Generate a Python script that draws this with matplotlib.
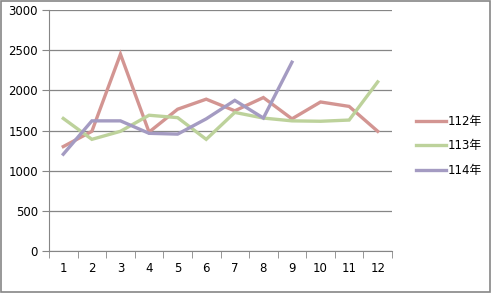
import matplotlib
matplotlib.use('Agg')
import matplotlib.pyplot as plt
from matplotlib.patches import Rectangle

plt.rcParams['font.family'] = ['DejaVu Sans', 'Noto Sans CJK TC']

months = [1, 2, 3, 4, 5, 6, 7, 8, 9, 10, 11, 12]
y112 = [1300, 1490, 2450, 1480, 1765, 1890, 1745, 1910, 1645, 1855, 1800, 1490]
y113 = [1650, 1390, 1490, 1690, 1660, 1390, 1725, 1655, 1620, 1615, 1630, 2105]
y114 = [1205, 1620, 1620, 1465, 1455, 1645, 1875, 1655, 2350]
labels = ['112年', '113年', '114年']
colors = ['#D39592', '#BDD29B', '#A49BC2']

fig = plt.figure(figsize=(4.91, 2.93), dpi=100)
ax = fig.add_axes([49 / 491, 1 - 251 / 293, (392 - 49) / 491, (251 - 10) / 293])

for ys, lab, c in zip([y112, y113, y114], labels, colors):
    ax.plot(months[:len(ys)], ys, color=c, lw=2.4, label=lab, solid_joinstyle='miter')

ax.set_xlim(0.5, 12.5)
ax.set_ylim(0, 3000)
ax.set_yticks(range(0, 3001, 500))
ax.set_xticks(months)
ax.set_xticks([m + 0.5 for m in range(0, 13)], minor=True)
ax.tick_params(axis='x', which='major', length=0, labelsize=8.5, pad=8)
ax.tick_params(axis='x', which='minor', length=5, color='#868686')
ax.tick_params(axis='y', length=5, color='#868686', labelsize=8.5, pad=3)
ax.grid(axis='y', color='#868686', lw=0.9)
ax.set_axisbelow(True)
for s in ['top', 'right']:
    ax.spines[s].set_visible(False)
for s in ['left', 'bottom']:
    ax.spines[s].set_color('#868686')

ax.legend(loc='center left', bbox_to_anchor=(1.055, 0.436), frameon=False,
          handlelength=2.6, handletextpad=0.1, labelspacing=0.95, fontsize=8.5,
          borderaxespad=0)

fig.patches.append(Rectangle((0.002, 0.003), 0.995, 0.994, transform=fig.transFigure,
                             fill=False, edgecolor='#868686', lw=1.2))

fig.savefig('out.png', dpi=100)
